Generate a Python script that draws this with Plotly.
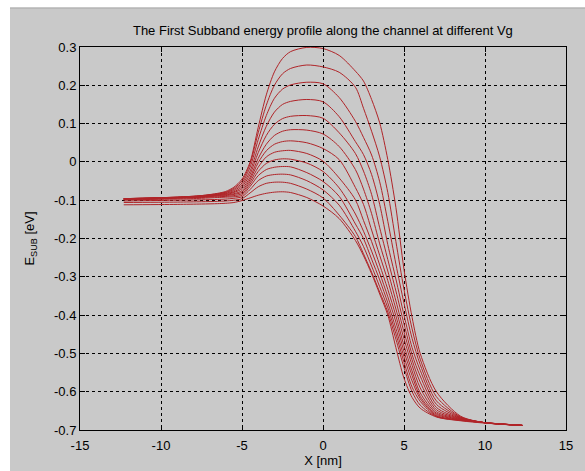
import plotly.graph_objects as go

# x positions along the channel [nm]
x_nm = [-12.3, -9, -7.5, -6.5, -6, -5.5, -5, -4.5, -4, -3.5, -3, -2.5, -2, -1,
        0, 1, 2, 2.5, 3, 3.5, 4, 4.5, 5, 5.5, 6, 7, 8.5, 10, 12.3]

# first subband energy [eV], one list per gate voltage (top = lowest Vg)
e_vg01 = [-0.096, -0.092, -0.088, -0.082, -0.077, -0.066, -0.045, 0.000, 0.090, 0.175, 0.235, 0.270, 0.288, 0.299,
          0.296, 0.278, 0.237, 0.211, 0.163, 0.102, 0.006, -0.119, -0.281, -0.406, -0.500, -0.600, -0.664, -0.681, -0.688]
e_vg02 = [-0.096, -0.092, -0.088, -0.083, -0.079, -0.069, -0.050, -0.005, 0.076, 0.148, 0.200, 0.230, 0.244, 0.253,
          0.248, 0.234, 0.195, 0.140, 0.080, 0.013, -0.080, -0.208, -0.333, -0.436, -0.515, -0.613, -0.666, -0.681, -0.688]
e_vg03 = [-0.096, -0.092, -0.089, -0.084, -0.080, -0.072, -0.055, -0.014, 0.058, 0.121, 0.166, 0.190, 0.201, 0.208,
          0.204, 0.168, 0.106, 0.064, 0.018, -0.052, -0.155, -0.267, -0.369, -0.461, -0.529, -0.624, -0.667, -0.681, -0.688]
e_vg04 = [-0.096, -0.093, -0.089, -0.085, -0.082, -0.075, -0.060, -0.024, 0.039, 0.093, 0.130, 0.150, 0.158, 0.163,
          0.157, 0.118, 0.053, 0.019, -0.033, -0.111, -0.216, -0.306, -0.400, -0.485, -0.544, -0.633, -0.668, -0.681, -0.688]
e_vg05 = [-0.097, -0.093, -0.090, -0.086, -0.083, -0.078, -0.065, -0.032, 0.024, 0.069, 0.098, 0.113, 0.119, 0.121,
          0.114, 0.076, 0.022, -0.024, -0.085, -0.172, -0.255, -0.337, -0.423, -0.503, -0.559, -0.641, -0.669, -0.681, -0.688]
e_vg06 = [-0.097, -0.093, -0.090, -0.087, -0.085, -0.080, -0.070, -0.040, 0.009, 0.046, 0.069, 0.080, 0.084, 0.083,
          0.073, 0.040, -0.020, -0.071, -0.135, -0.214, -0.285, -0.363, -0.444, -0.517, -0.575, -0.647, -0.670, -0.681, -0.688]
e_vg07 = [-0.097, -0.094, -0.091, -0.088, -0.086, -0.083, -0.075, -0.046, -0.002, 0.029, 0.046, 0.053, 0.055, 0.050,
          0.035, 0.006, -0.067, -0.111, -0.178, -0.244, -0.310, -0.384, -0.462, -0.531, -0.590, -0.652, -0.671, -0.681, -0.688]
e_vg08 = [-0.098, -0.094, -0.092, -0.089, -0.088, -0.085, -0.079, -0.052, -0.014, 0.013, 0.025, 0.029, 0.030, 0.022,
          0.002, -0.042, -0.099, -0.153, -0.208, -0.269, -0.333, -0.402, -0.480, -0.546, -0.603, -0.656, -0.672, -0.681, -0.688]
e_vg09 = [-0.098, -0.095, -0.093, -0.091, -0.090, -0.088, -0.083, -0.058, -0.025, -0.004, 0.005, 0.008, 0.007, -0.003,
          -0.025, -0.068, -0.136, -0.181, -0.233, -0.290, -0.352, -0.418, -0.495, -0.558, -0.612, -0.659, -0.673, -0.681, -0.688]
e_vg10 = [-0.099, -0.097, -0.095, -0.093, -0.092, -0.091, -0.087, -0.064, -0.036, -0.020, -0.014, -0.012, -0.013, -0.028,
          -0.051, -0.090, -0.162, -0.200, -0.254, -0.308, -0.368, -0.435, -0.509, -0.572, -0.618, -0.662, -0.674, -0.681, -0.688]
e_vg11 = [-0.102, -0.100, -0.099, -0.098, -0.097, -0.095, -0.091, -0.072, -0.049, -0.037, -0.033, -0.032, -0.034, -0.049,
          -0.073, -0.113, -0.181, -0.221, -0.272, -0.326, -0.381, -0.449, -0.523, -0.588, -0.625, -0.664, -0.674, -0.681, -0.688]
e_vg12 = [-0.106, -0.105, -0.104, -0.103, -0.102, -0.100, -0.096, -0.081, -0.065, -0.056, -0.053, -0.053, -0.056, -0.071,
          -0.094, -0.139, -0.195, -0.240, -0.288, -0.340, -0.392, -0.463, -0.537, -0.600, -0.635, -0.665, -0.675, -0.681, -0.688]
e_vg13 = [-0.112, -0.111, -0.110, -0.109, -0.108, -0.106, -0.101, -0.094, -0.087, -0.082, -0.079, -0.078, -0.080, -0.093,
          -0.115, -0.148, -0.205, -0.245, -0.292, -0.345, -0.400, -0.485, -0.565, -0.615, -0.643, -0.666, -0.676, -0.682, -0.688]

x_ticks = [-15, -10, -5, 0, 5, 10, 15]
x_tick_text = ["-15", "-10", "-5", "0", "5", "10", "15"]
y_ticks = [-0.7, -0.6, -0.5, -0.4, -0.3, -0.2, -0.1, 0, 0.1, 0.2, 0.3]
y_tick_text = ["-0.7", "-0.6", "-0.5", "-0.4", "-0.3", "-0.2", "-0.1", "0", "0.1", "0.2", "0.3"]

curves = [e_vg01, e_vg02, e_vg03, e_vg04, e_vg05, e_vg06, e_vg07,
          e_vg08, e_vg09, e_vg10, e_vg11, e_vg12, e_vg13]

FONT = "Liberation Sans, Arial, sans-serif"

fig = go.Figure()
for e in curves:
    fig.add_trace(go.Scatter(x=x_nm, y=e, mode="lines",
                             line=dict(color="#b02428", width=1, shape="spline", smoothing=0.8),
                             showlegend=False, hoverinfo="skip"))

axis_common = dict(showline=True, linecolor="black", linewidth=1, mirror="ticks",
                   ticks="inside", ticklen=5, tickcolor="black", tickwidth=1,
                   showgrid=True, gridcolor="black", gridwidth=1, griddash="3px,3px",
                   zeroline=False, automargin=False,
                   tickfont=dict(family=FONT, size=13, color="black"))

fig.update_xaxes(range=[-15, 15], tickvals=x_ticks, ticktext=x_tick_text, ticklabelstandoff=3,
                 title=dict(text="X [nm]", font=dict(family=FONT, size=13, color="black"), standoff=4),
                 **axis_common)
fig.update_yaxes(range=[-0.7, 0.3], tickvals=y_ticks, ticktext=y_tick_text,
                 title=dict(text="E<sub>SUB</sub> [eV]", font=dict(family=FONT, size=13, color="black"), standoff=16),
                 **axis_common)

fig.update_layout(
    width=585, height=471,
    margin=dict(l=80, r=19, t=47, b=41),
    paper_bgcolor="white",
    plot_bgcolor="white",
    title=dict(text="The First Subband energy profile along the channel at different Vg",
               font=dict(family=FONT, size=13, color="black"),
               x=0.552, xanchor="center", y=0.936, yanchor="middle"),
    shapes=[
        dict(type="rect", xref="paper", yref="paper", x0=-0.144, x1=1.05, y0=-0.12, y1=1.102,
             fillcolor="#c9c9c9", line=dict(width=0), layer="below"),
        dict(type="line", xref="paper", yref="paper", x0=-0.144, x1=1.05, y0=1.102, y1=1.102,
             line=dict(color="#a0a0a0", width=1), layer="below"),
    ],
)

fig.write_html("out.html")
